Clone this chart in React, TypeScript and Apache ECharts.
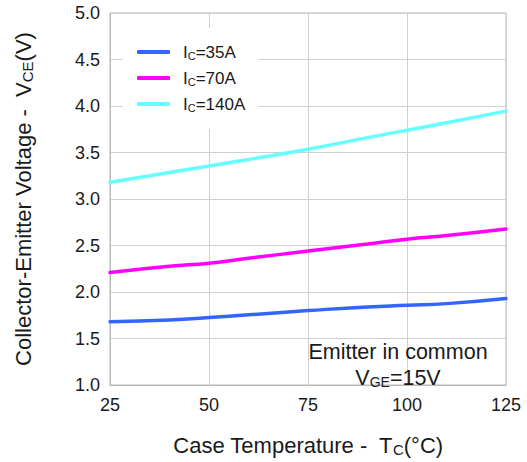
import React, { useEffect, useRef } from "react";
import * as echarts from "echarts";

const temps = [25, 40, 50, 60, 75, 90, 100, 110, 125];
const ic35 = [1.68, 1.7, 1.725, 1.755, 1.8, 1.84, 1.857, 1.875, 1.93];
const ic70 = [2.21, 2.277, 2.31, 2.363, 2.44, 2.515, 2.568, 2.607, 2.678];
const ic140 = [3.18, 3.285, 3.355, 3.425, 3.535, 3.66, 3.74, 3.82, 3.945];
const seriesNames = ["IC=35A", "IC=70A", "IC=140A"];
const seriesColors = ["#3366ff", "#ff00ff", "#66ffff"];
const xTicks = [25, 50, 75, 100, 125];
const yTicks = [1.0, 1.5, 2.0, 2.5, 3.0, 3.5, 4.0, 4.5, 5.0];

const FONT = "'Liberation Sans', Arial, sans-serif";
const TXT = "#1a1a1a";

export default function App() {
  const ref = useRef<HTMLDivElement>(null);
  useEffect(() => {
    if (!ref.current) return;
    const chart = echarts.init(ref.current, undefined, { renderer: "svg" });
    const allSeries = [ic35, ic70, ic140];
    chart.setOption({
      animation: false,
      backgroundColor: "#ffffff",
      textStyle: { fontFamily: FONT, color: TXT },
      grid: {
        left: 110,
        right: 21,
        top: 13,
        height: 375,
        show: true,
        borderColor: "#b8b8b8",
        borderWidth: 1,
        backgroundColor: "transparent",
      },
      legend: {
        orient: "vertical",
        left: 123,
        top: 28,
        width: 137,
        padding: [15, 13, 16, 14],
        backgroundColor: "#ffffff",
        itemWidth: 33,
        itemHeight: 4,
        itemGap: 8,
        icon: "roundRect",
        data: seriesNames,
        formatter: (name: string) => "{f|I}{s|C}{m|" + name.slice(2) + "}",
        textStyle: {
          fontFamily: FONT,
          color: TXT,
          fontSize: 17,
          lineHeight: 18,
          rich: {
            f: { fontFamily: FONT, fontSize: 17, color: TXT, lineHeight: 18, padding: [0, 0, 0, 8] },
            m: { fontFamily: FONT, fontSize: 17, color: TXT, lineHeight: 18 },
            s: { fontFamily: FONT, fontSize: 11, color: TXT, lineHeight: 18, padding: [7, 0, 0, 0] },
          },
        },
      },
      xAxis: {
        type: "value",
        min: 25,
        max: 125,
        interval: 25,
        name: "Case Temperature -  T{s|C}(°C)",
        nameLocation: "middle",
        nameGap: 49,
        nameTextStyle: {
          fontFamily: FONT,
          fontSize: 22,
          color: TXT,
          rich: {
            s: { fontFamily: FONT, fontSize: 15, color: TXT, padding: [8, 0, 0, 0] },
          },
        },
        axisLine: { show: true, lineStyle: { color: "#b8b8b8", width: 1 } },
        axisTick: { show: false },
        axisLabel: {
          fontFamily: FONT,
          fontSize: 18,
          color: TXT,
          margin: 11,
          formatter: (v: number) => (xTicks.includes(v) ? String(v) : ""),
        },
        splitLine: { show: true, lineStyle: { color: "#d0d0d0", width: 1 } },
      },
      yAxis: {
        type: "value",
        min: 1,
        max: 5,
        interval: 0.5,
        name: "Collector-Emitter Voltage -  V{s|CE}(V)",
        nameLocation: "middle",
        nameGap: 75,
        nameRotate: 90,
        nameTextStyle: {
          fontFamily: FONT,
          fontSize: 22,
          color: TXT,
          rich: {
            s: { fontFamily: FONT, fontSize: 15, color: TXT, padding: [8, 0, 0, 0] },
          },
        },
        axisLine: { show: true, lineStyle: { color: "#b8b8b8", width: 1 } },
        axisTick: { show: false },
        axisLabel: {
          fontFamily: FONT,
          fontSize: 18,
          color: TXT,
          margin: 10,
          formatter: (v: number) => {
            const t = yTicks.find((y) => Math.abs(y - v) < 1e-6);
            return t !== undefined ? t.toFixed(1) : "";
          },
        },
        splitLine: { show: true, lineStyle: { color: "#d0d0d0", width: 1 } },
      },
      series: allSeries.map((vals, i) => ({
        name: seriesNames[i],
        type: "line",
        smooth: true,
        symbol: "none",
        data: temps.map((t, j) => [t, vals[j]]),
        lineStyle: { color: seriesColors[i], width: 3.5, cap: "round" },
        itemStyle: { color: seriesColors[i] },
        z: 3,
      })),
      graphic: [
        {
          type: "text",
          x: 398,
          y: 352,
          z: 10,
          style: {
            text: "Emitter in common",
            fontFamily: FONT,
            fontSize: 21.5,
            fill: TXT,
            align: "center",
            verticalAlign: "middle",
          },
        },
        {
          type: "text",
          x: 398,
          y: 378,
          z: 10,
          style: {
            text: "V{s|GE}=15V",
            fontFamily: FONT,
            fontSize: 21.5,
            fill: TXT,
            align: "center",
            verticalAlign: "middle",
            rich: {
              s: { fontFamily: FONT, fontSize: 14, fill: TXT, padding: [8, 0, 0, 0] },
            },
          },
        },
      ],
    });
    return () => chart.dispose();
  }, []);
  return (
    <div
      ref={ref}
      style={{ position: "absolute", left: 0, top: 0, width: 527, height: 462 }}
    />
  );
}
